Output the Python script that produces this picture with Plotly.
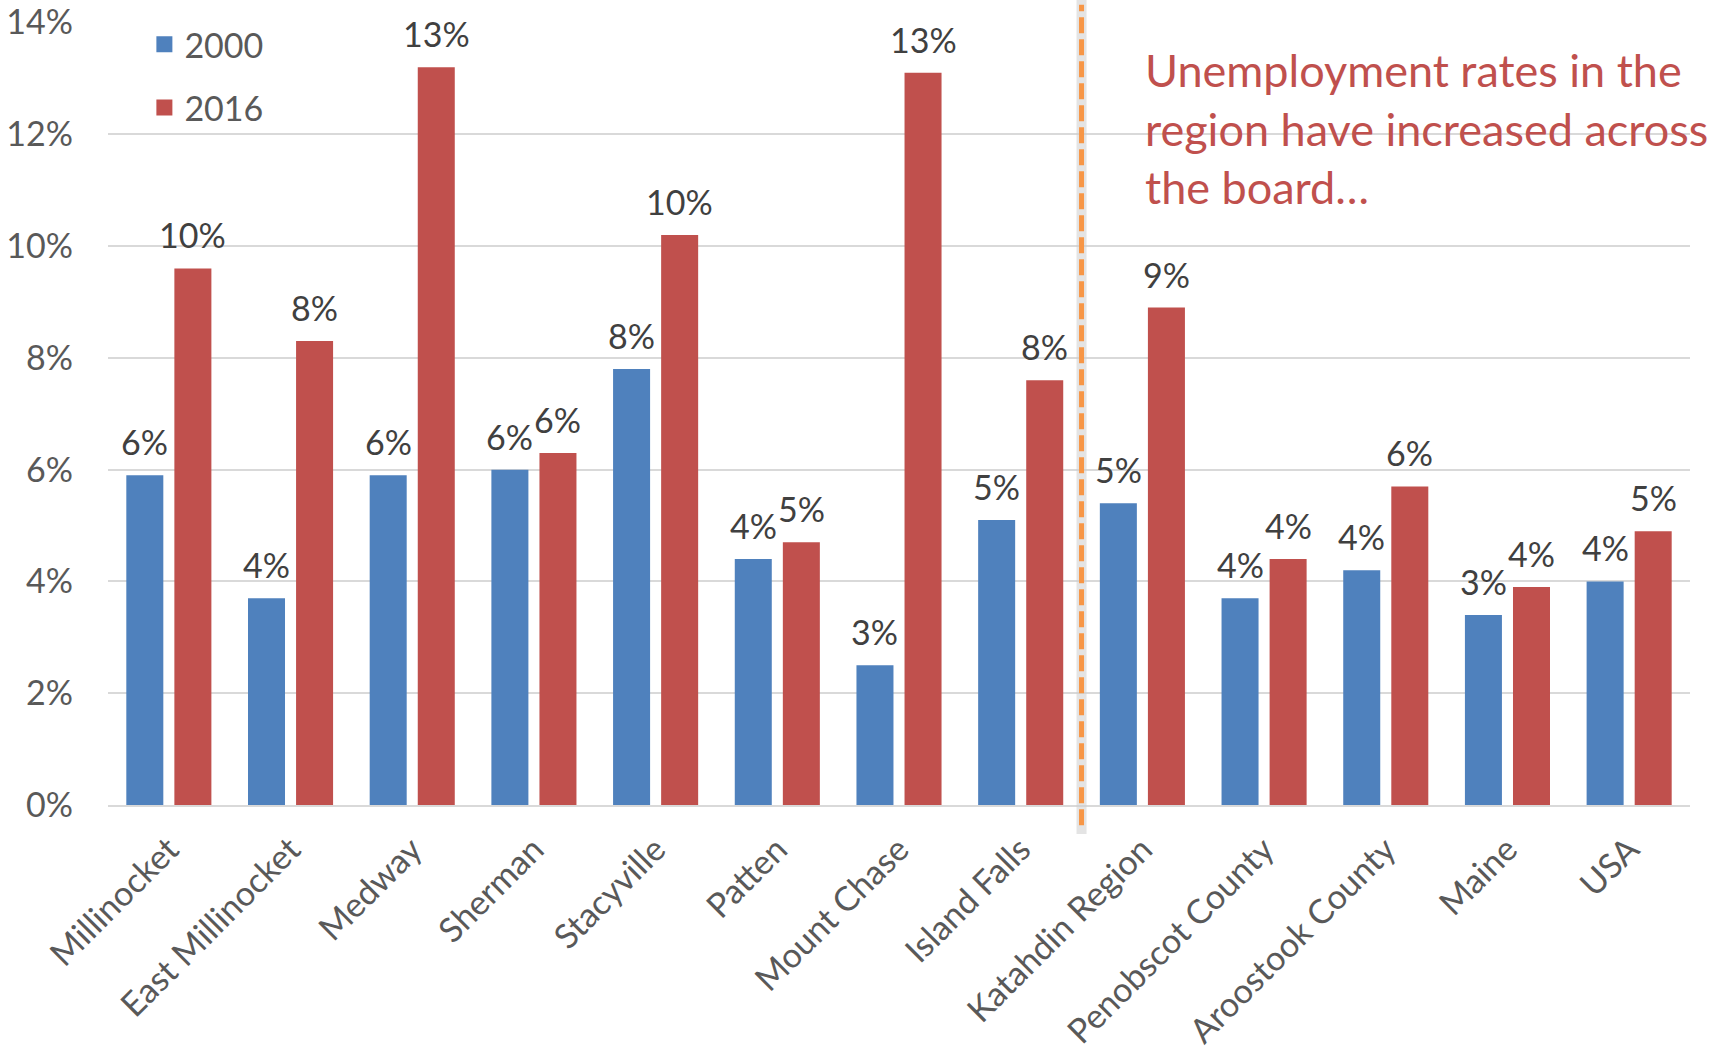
import plotly.graph_objects as go

categories = ["Millinocket", "East Millinocket", "Medway", "Sherman", "Stacyville",
              "Patten", "Mount Chase", "Island Falls", "Katahdin Region",
              "Penobscot County", "Aroostook County", "Maine", "USA"]
rate_2000 = [0.059, 0.037, 0.059, 0.060, 0.078, 0.044, 0.025, 0.051, 0.054,
             0.037, 0.042, 0.034, 0.040]
rate_2016 = [0.096, 0.083, 0.132, 0.063, 0.102, 0.047, 0.131, 0.076, 0.089,
             0.044, 0.057, 0.039, 0.049]
series_names = ["2000", "2016"]
y_ticks = [0, 0.02, 0.04, 0.06, 0.08, 0.10, 0.12, 0.14]
divider_position = 7.5
note_text = "Unemployment rates in the<br>region have increased across<br>the board…"

BLUE = "#4F81BD"
RED = "#C0504D"
FONT = "Lato"
BARGAP = 0.21
PLOT_W = 1709 - 108 - 19


def pct(v):
    return f"{int(v * 100 + 0.5)}%"


fig = go.Figure()
slot_px = (1 - BARGAP) * PLOT_W / len(categories) / 2
for i, (name, vals, col, grp) in enumerate([(series_names[0], rate_2000, BLUE, "a"),
                                            (series_names[1], rate_2016, RED, "b")]):
    fig.add_trace(go.Bar(
        x=categories, y=vals, name=name, marker_color=col,
        marker_line_width=0, legendgroup=grp, showlegend=False,
    ))
    # legend entries (square markers)
    fig.add_trace(go.Scatter(
        x=[None], y=[None], mode="markers", name=name, legendgroup=grp,
        marker=dict(symbol="square", size=16, color=col),
    ))
    shift = (i - 0.5) * slot_px
    for c, v in zip(categories, vals):
        fig.add_annotation(x=c, y=v, xref="x", yref="y", text=pct(v),
                           showarrow=False, xanchor="center", yanchor="bottom",
                           xshift=shift, yshift=11,
                           font=dict(family=FONT, size=34, color="#404040"))

# divider line with a soft shadow
fig.add_shape(type="line", xref="x", yref="paper", x0=divider_position, x1=divider_position,
              y0=-0.037, y1=1.028, line=dict(color="rgba(205,205,205,0.55)", width=10))
fig.add_shape(type="line", xref="x", yref="paper", x0=divider_position, x1=divider_position,
              y0=-0.026, y1=1.022, line=dict(color="#F79646", width=5, dash="16px,6px"))

fig.add_annotation(text=note_text, xref="paper", yref="paper", x=0.654, y=0.976,
                   xanchor="left", yanchor="top", align="left", showarrow=False,
                   font=dict(family=FONT, size=45, color=RED))

fig.update_layout(
    width=1709, height=1053,
    margin=dict(l=108, r=19, t=22, b=248),
    paper_bgcolor="white", plot_bgcolor="white",
    barmode="group", bargap=BARGAP, bargroupgap=0.23,
    font=dict(family=FONT, size=34, color="#595959"),
    legend=dict(x=0.023, y=1.008, xanchor="left", yanchor="top",
                font=dict(family=FONT, size=34, color="#595959"),
                tracegroupgap=16, bgcolor="rgba(0,0,0,0)"),
    showlegend=True,
)
fig.update_yaxes(range=[0, 0.1401], tickvals=y_ticks, tickformat=".0%",
                 showgrid=True, gridcolor="#D9D9D9", gridwidth=2,
                 zeroline=False, showline=False, ticklabelstandoff=34,
                 automargin=False,
                 tickfont=dict(family=FONT, size=34, color="#595959"))
fig.update_xaxes(tickangle=-45, showline=True, linecolor="#D9D9D9", linewidth=2,
                 ticklabelstandoff=9, automargin=False,
                 tickfont=dict(family=FONT, size=34, color="#595959"))

fig.write_html("out.html")
